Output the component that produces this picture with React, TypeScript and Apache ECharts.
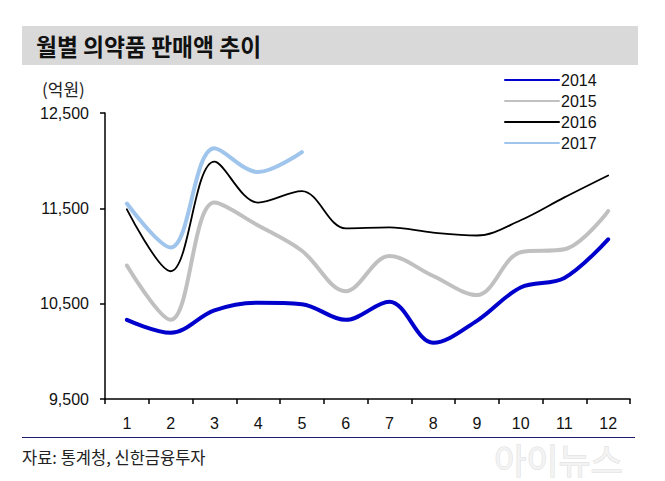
import React, { useEffect, useRef } from "react";
import * as echarts from "echarts";

const months = ["1", "2", "3", "4", "5", "6", "7", "8", "9", "10", "11", "12"];
const s2014 = [10330, 10195, 10430, 10510, 10495, 10330, 10520, 10090, 10320, 10670, 10770, 11175];
const s2015 = [10900, 10330, 11560, 11320, 11055, 10630, 11000, 10790, 10590, 11040, 11070, 11470];
const s2016 = [11490, 10840, 11990, 11560, 11680, 11290, 11300, 11245, 11215, 11375, 11615, 11845];
const s2017 = [11550, 11090, 12130, 11880, 12090];
const yTicks = [9500, 10500, 11500, 12500];

const FONT = "'Liberation Sans', Arial, sans-serif";
const KFONT = "'Noto Sans CJK KR', 'Noto Sans', sans-serif";

export default function App() {
  const ref = useRef<HTMLDivElement>(null);
  useEffect(() => {
    if (!ref.current) return;
    const chart = echarts.init(ref.current, null, { renderer: "svg" });
    const mk = (name: string, data: number[], color: string, width: number) => ({
      name,
      type: "line",
      data,
      smooth: 0.35,
      symbol: "none",
      showSymbol: false,
      lineStyle: { color, width, cap: "round" },
      itemStyle: { color },
    });
    chart.setOption({
      animation: false,
      backgroundColor: "#ffffff",
      grid: { left: 105, right: 35, top: 113, bottom: 82, containLabel: false },
      legend: {
        orient: "vertical",
        left: 499,
        top: 67,
        itemWidth: 54,
        itemHeight: 14,
        itemGap: 5,
        itemStyle: { opacity: 0 },
        textStyle: { fontFamily: FONT, fontSize: 16, color: "#111", padding: [0, 0, 0, -3] },
        data: ["2014", "2015", "2016", "2017"],
      },
      xAxis: {
        type: "category",
        data: months,
        boundaryGap: true,
        axisLine: { show: true, lineStyle: { color: "#000", width: 1.5 } },
        axisTick: { show: true, length: 5, alignWithLabel: false, lineStyle: { color: "#000", width: 1.5 } },
        axisLabel: { fontFamily: FONT, fontSize: 16, color: "#111", margin: 16 },
        splitLine: { show: false },
      },
      yAxis: {
        type: "value",
        min: 9500,
        max: 12500,
        splitLine: { show: false },
        axisLine: { show: true, lineStyle: { color: "#000", width: 1.5 } },
        axisTick: { show: true, length: 5, customValues: yTicks, lineStyle: { color: "#000", width: 1.5 } },
        axisLabel: {
          customValues: yTicks,
          fontFamily: FONT,
          fontSize: 16,
          color: "#111",
          margin: 16,
          formatter: (v: number) => v.toLocaleString("en-US"),
        },
      },
      series: [
        mk("2014", s2014, "#0000CC", 4),
        mk("2015", s2015, "#C0C0C0", 4),
        mk("2016", s2016, "#000000", 1.8),
        mk("2017", s2017, "#9FC5EC", 4),
      ],
      graphic: [
        { type: "rect", shape: { x: 22, y: 26, width: 616, height: 39 }, style: { fill: "#D9D9D9" }, z: 0 },
        {
          type: "text",
          x: 36,
          y: 46,
          scaleX: 0.95,
          style: { text: "월별 의약품 판매액 추이", fontFamily: KFONT, fontSize: 24, fontWeight: "bold", fill: "#111", verticalAlign: "middle" },
        },
        {
          type: "text",
          x: 42,
          y: 88,
          style: { text: "(억원)", fontFamily: KFONT, fontSize: 17, fill: "#222", verticalAlign: "middle" },
        },
        { type: "line", shape: { x1: 22, y1: 437.5, x2: 635, y2: 437.5 }, style: { stroke: "#1F1F6E", lineWidth: 1 } },
        {
          type: "text",
          x: 22,
          y: 457,
          style: { text: "자료: 통계청, 신한금융투자", fontFamily: KFONT, fontSize: 16.5, fill: "#222", verticalAlign: "middle" },
        },
        {
          type: "text",
          x: 494,
          y: 458,
          style: { text: "아이뉴스", fontFamily: KFONT, fontSize: 35, fill: "#F3F3F3", stroke: "#DCDCDC", lineWidth: 1, verticalAlign: "middle" },
        },
      ],
    });
    return () => chart.dispose();
  }, []);
  return <div ref={ref} style={{ width: 665, height: 481, position: "absolute", left: 0, top: 0 }} />;
}
